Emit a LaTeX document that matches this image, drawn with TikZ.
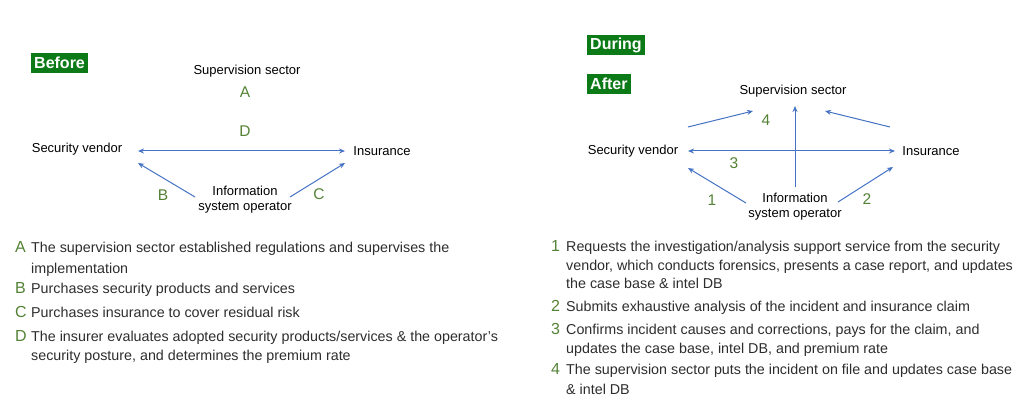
\documentclass[tikz,border=0pt]{standalone}
\usepackage{fontspec}
\setmainfont{Liberation Sans}
\usetikzlibrary{arrows.meta}
\definecolor{hdrgreen}{RGB}{12,122,22}
\definecolor{lblgreen}{RGB}{84,130,53}
\definecolor{arrblue}{RGB}{68,114,196}
\definecolor{itemtxt}{RGB}{45,45,45}
\begin{document}
\begin{tikzpicture}[x=1pt,y=-1pt,
 hdr/.style={fill=hdrgreen,text=white,font=\fontsize{16}{18}\selectfont\bfseries,inner xsep=3pt,inner ysep=0pt,minimum height=20pt,anchor=west},
 ent/.style={font=\fontsize{13}{15}\selectfont,text=black,inner sep=0pt,align=center},
 lab/.style={font=\fontsize{15.5}{16}\selectfont,text=lblgreen,inner sep=0pt},
 con/.style={draw=arrblue,line width=1pt,-{Stealth[length=6pt,width=5pt]}},
 bicon/.style={draw=arrblue,line width=1pt,{Stealth[length=6pt,width=5pt]}-{Stealth[length=6pt,width=5pt]}},
 key/.style={font=\fontsize{16}{16}\selectfont,text=lblgreen,inner sep=0pt,anchor=base west},
 itemline/.style={font=\fontsize{14.3}{16}\selectfont,text=itemtxt,inner sep=0pt,anchor=base west},
]
\useasboundingbox (0,0) rectangle (1024,411);

% ---------- Before ----------
\node[hdr] (before) at (31,63) {Before};
\node[ent] (sup1) at (247,71) {Supervision sector};
\node[lab] (A) at (245,92) {A};
\node[ent] (vend1) at (77,149) {Security vendor};
\node[ent] (ins1) at (382,151) {Insurance};
\node[ent] (op1) at (245,200) {Information\\system operator};
\node[lab] (D) at (245,131) {D};
\node[lab] (B) at (163,195) {B};
\node[lab] (C) at (319,194) {C};

\coordinate (v1r) at (138,151);
\coordinate (i1l) at (345,151);
\coordinate (v1b) at (138,163);
\coordinate (i1b) at (345,163);
\coordinate (o1l) at (195,197);
\coordinate (o1r) at (290,197);
\draw[bicon] (v1r) -- (i1l);
\draw[con] (o1l) -- (v1b);
\draw[con] (o1r) -- (i1b);

% ---------- During / After ----------
\node[hdr] (during) at (587,45) {During};
\node[hdr] (after) at (587,84) {After};
\node[ent] (sup2) at (793,91) {Supervision sector};
\node[ent] (vend2) at (633,151) {Security vendor};
\node[ent] (ins2) at (931,151) {Insurance};
\node[ent] (op2) at (795,207) {Information\\system operator};
\node[lab] (n4) at (766,120) {4};
\node[lab] (n3) at (734,163) {3};
\node[lab] (n1) at (712,200) {1};
\node[lab] (n2) at (867,199) {2};

\coordinate (v2t) at (688,127);
\coordinate (s2l) at (753,111);
\coordinate (o2t) at (795,187);
\coordinate (s2b) at (795,106);
\coordinate (i2t) at (890,127);
\coordinate (s2r) at (825,111);
\coordinate (v2r) at (688,151);
\coordinate (i2l) at (895,151);
\coordinate (o2l) at (746,203);
\coordinate (v2b) at (688,168);
\coordinate (o2r) at (838,202);
\coordinate (i2b) at (893,167);
\draw[con] (v2t) -- (s2l);
\draw[con] (o2t) -- (s2b);
\draw[con] (i2t) -- (s2r);
\draw[bicon] (v2r) -- (i2l);
\draw[con] (o2l) -- (v2b);
\draw[con] (o2r) -- (i2b);

% ---------- Left legend ----------
\node[key] (kA) at (15,253) {A};
\node[itemline] (tA1) at (31,253) {The supervision sector established regulations and supervises the};
\node[itemline] (tA2) at (31,273) {implementation};
\node[key] (kB) at (15,294) {B};
\node[itemline] (tB1) at (31,294) {Purchases security products and services};
\node[key] (kC) at (15,317) {C};
\node[itemline] (tC1) at (31,317) {Purchases insurance to cover residual risk};
\node[key] (kD) at (15,341) {D};
\node[itemline] (tD1) at (31,341) {The insurer evaluates adopted security products/services \& the operator's};
\node[itemline] (tD2) at (31,360) {security posture, and determines the premium rate};

% ---------- Right legend ----------
\node[key] (k1) at (551,252) {1};
\node[itemline] (t11) at (566,252) {Requests the investigation/analysis support service from the security};
\node[itemline] (t12) at (566,271) {vendor, which conducts forensics, presents a case report, and updates};
\node[itemline] (t13) at (566,289) {the case base \& intel DB};
\node[key] (k2) at (551,311) {2};
\node[itemline] (t21) at (566,311) {Submits exhaustive analysis of the incident and insurance claim};
\node[key] (k3) at (551,334) {3};
\node[itemline] (t31) at (566,334) {Confirms incident causes and corrections, pays for the claim, and};
\node[itemline] (t32) at (566,353) {updates the case base, intel DB, and premium rate};
\node[key] (k4) at (551,374) {4};
\node[itemline] (t41) at (566,374) {The supervision sector puts the incident on file and updates case base};
\node[itemline] (t42) at (566,394) {\& intel DB};
\end{tikzpicture}
\end{document}
